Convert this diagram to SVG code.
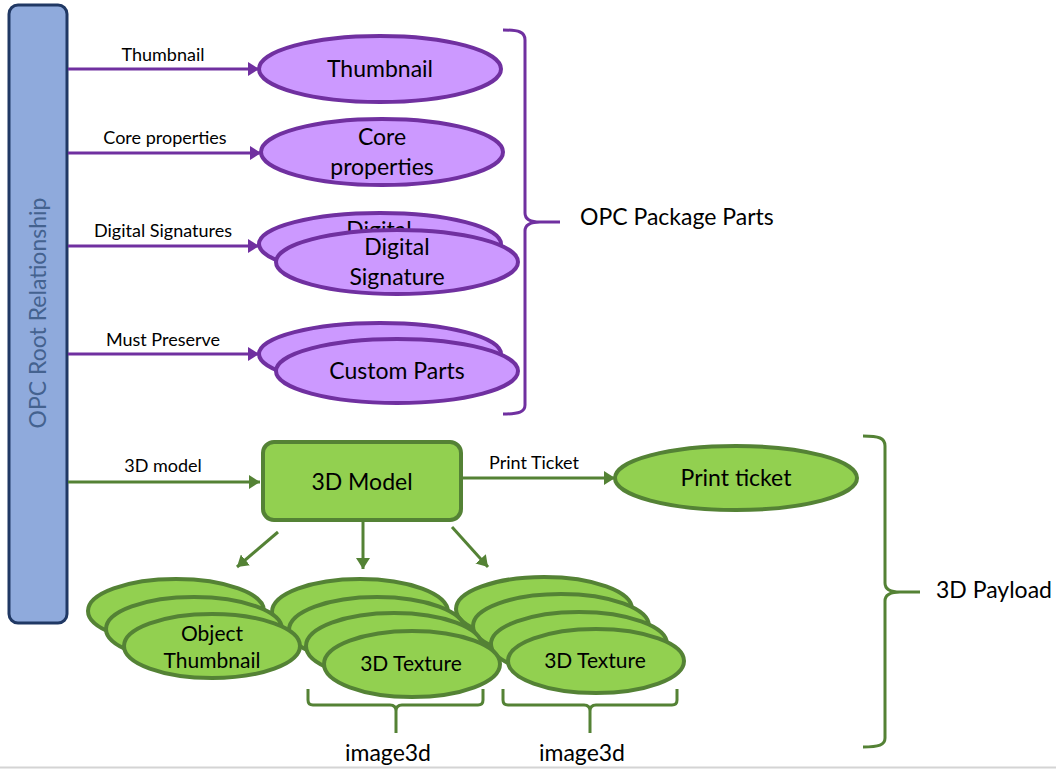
<svg xmlns="http://www.w3.org/2000/svg" width="1056" height="770" viewBox="0 0 1056 770">
<defs>
<style>
text{font-family:Lato,"Liberation Sans",sans-serif;fill:#000}
.lbl{font-size:18px;text-anchor:middle}
.main{font-size:23px;text-anchor:middle}
.side{font-size:23px}
.pe{fill:#cc99ff;stroke:#7030a0;stroke-width:4}
.ge{fill:#92d050;stroke:#548235;stroke-width:4}
.pl{stroke:#7030a0;stroke-width:3;fill:none}
.gl{stroke:#548235;stroke-width:3;fill:none}
.pb{stroke:#7030a0;stroke-width:3;fill:none}
.gb{stroke:#548235;stroke-width:3;fill:none}
</style>
<marker id="ap" markerUnits="userSpaceOnUse" markerWidth="12" markerHeight="14" refX="11" refY="7" orient="auto"><path d="M0,0 L11,7 L0,14 Z" fill="#7030a0"/></marker>
<marker id="ag" markerUnits="userSpaceOnUse" markerWidth="12" markerHeight="14" refX="11" refY="7" orient="auto"><path d="M0,0 L11,7 L0,14 Z" fill="#548235"/></marker>
</defs>
<rect width="1056" height="770" fill="#fff"/>
<line x1="0" y1="767.5" x2="1056" y2="767.5" stroke="#d4d4d4" stroke-width="2"/>

<g id="root">
<rect x="9" y="5" width="58" height="618" rx="9" fill="#8faadc" stroke="#203864" stroke-width="3"/>
<text transform="translate(46,313) rotate(-90)" style="font-size:23px;fill:#44628f" text-anchor="middle">OPC Root Relationship</text>
</g>

<g id="connectors">
<line class="pl" x1="68" y1="69" x2="259" y2="69" marker-end="url(#ap)"/>
<text class="lbl" x="163" y="61">Thumbnail</text>
<line class="pl" x1="68" y1="153" x2="261" y2="153" marker-end="url(#ap)"/>
<text class="lbl" x="165" y="144">Core properties</text>
<line class="pl" x1="68" y1="246" x2="259" y2="246" marker-end="url(#ap)"/>
<text class="lbl" x="163" y="237">Digital Signatures</text>
<line class="pl" x1="68" y1="354" x2="259" y2="354" marker-end="url(#ap)"/>
<text class="lbl" x="163" y="346">Must Preserve</text>
<line class="gl" x1="68" y1="482" x2="260" y2="482" marker-end="url(#ag)"/>
<text class="lbl" x="163" y="472">3D model</text>
<line class="gl" x1="462" y1="478" x2="615" y2="478" marker-end="url(#ag)"/>
<text class="lbl" x="534" y="469">Print Ticket</text>
<line class="gl" x1="278" y1="532" x2="237" y2="567" marker-end="url(#ag)"/>
<line class="gl" x1="363" y1="521" x2="363" y2="569" marker-end="url(#ag)"/>
<line class="gl" x1="452" y1="527" x2="488" y2="567" marker-end="url(#ag)"/>
</g>

<g id="thumbnail">
<ellipse class="pe" cx="380" cy="69" rx="121" ry="33"/>
<text class="main" x="380" y="77">Thumbnail</text>
</g>
<g id="core-properties">
<ellipse class="pe" cx="382" cy="152" rx="121" ry="33"/>
<text class="main" x="382" y="145">Core</text>
<text class="main" x="382" y="175">properties</text>
</g>
<g id="digital-signature">
<ellipse class="pe" cx="380" cy="244" rx="121" ry="31"/>
<text class="main" x="379" y="238">Digital</text>
<ellipse class="pe" cx="397" cy="262" rx="121" ry="32"/>
<text class="main" x="397" y="255">Digital</text>
<text class="main" x="397" y="285">Signature</text>
</g>
<g id="custom-parts">
<ellipse class="pe" cx="380" cy="354" rx="121" ry="31"/>
<ellipse class="pe" cx="397" cy="371" rx="121" ry="32"/>
<text class="main" x="397" y="379">Custom Parts</text>
</g>
<g id="opc-package-parts">
<path class="pb" d="M503,30 C519,30 525,32 525,40 L525,213 C525,219 530,222 540,222 L560,222 M540,222 C530,222 525,225 525,231 L525,405 C525,412 519,414 503,414"/>
<text class="side" x="580" y="225">OPC Package Parts</text>
</g>

<g id="model">
<rect x="263" y="442" width="198" height="78" rx="11" fill="#92d050" stroke="#548235" stroke-width="4"/>
<text class="main" x="362" y="490">3D Model</text>
</g>
<g id="print-ticket">
<ellipse class="ge" cx="736" cy="478" rx="121" ry="32"/>
<text class="main" x="736" y="486">Print ticket</text>
</g>

<g id="texture-stack-2">
<ellipse class="ge" cx="544" cy="609" rx="88" ry="32"/>
<ellipse class="ge" cx="561" cy="626" rx="88" ry="32"/>
<ellipse class="ge" cx="579" cy="644" rx="88" ry="32"/>
<ellipse class="ge" cx="596" cy="661" rx="88" ry="32"/>
<text class="main" x="595" y="668" style="font-size:21px">3D Texture</text>
</g>
<g id="texture-stack-1">
<ellipse class="ge" cx="360" cy="612" rx="88" ry="33"/>
<ellipse class="ge" cx="377" cy="630" rx="88" ry="33"/>
<ellipse class="ge" cx="394" cy="646" rx="88" ry="33"/>
<ellipse class="ge" cx="412" cy="664" rx="88" ry="33"/>
<text class="main" x="411" y="671" style="font-size:21px">3D Texture</text>
</g>
<g id="object-thumbnail">
<ellipse class="ge" cx="176" cy="611" rx="88" ry="32"/>
<ellipse class="ge" cx="194" cy="629" rx="88" ry="32"/>
<ellipse class="ge" cx="212" cy="646" rx="88" ry="32"/>
<text class="main" x="212" y="641" style="font-size:21px">Object</text>
<text class="main" x="212" y="668" style="font-size:21px">Thumbnail</text>
</g>

<g id="image3d-1">
<path class="gb" d="M308,689 L308,700 Q308,705 313,705 L390,705 Q396,705 396,711 L396,733 M396,711 Q396,705 402,705 L478,705 Q483,705 483,700 L483,689"/>
<text class="main" x="388" y="761">image3d</text>
</g>
<g id="image3d-2">
<path class="gb" d="M503,689 L503,700 Q503,705 508,705 L584,705 Q590,705 590,711 L590,733 M590,711 Q590,705 596,705 L672,705 Q677,705 677,700 L677,689"/>
<text class="main" x="582" y="761">image3d</text>
</g>
<g id="payload">
<path class="gb" d="M863,436 C879,436 885,438 885,446 L885,583 C885,589 890,592 900,592 L920,592 M900,592 C890,592 885,595 885,601 L885,738 C885,745 879,747 863,747"/>
<text class="side" x="936" y="598">3D Payload</text>
</g>
</svg>
